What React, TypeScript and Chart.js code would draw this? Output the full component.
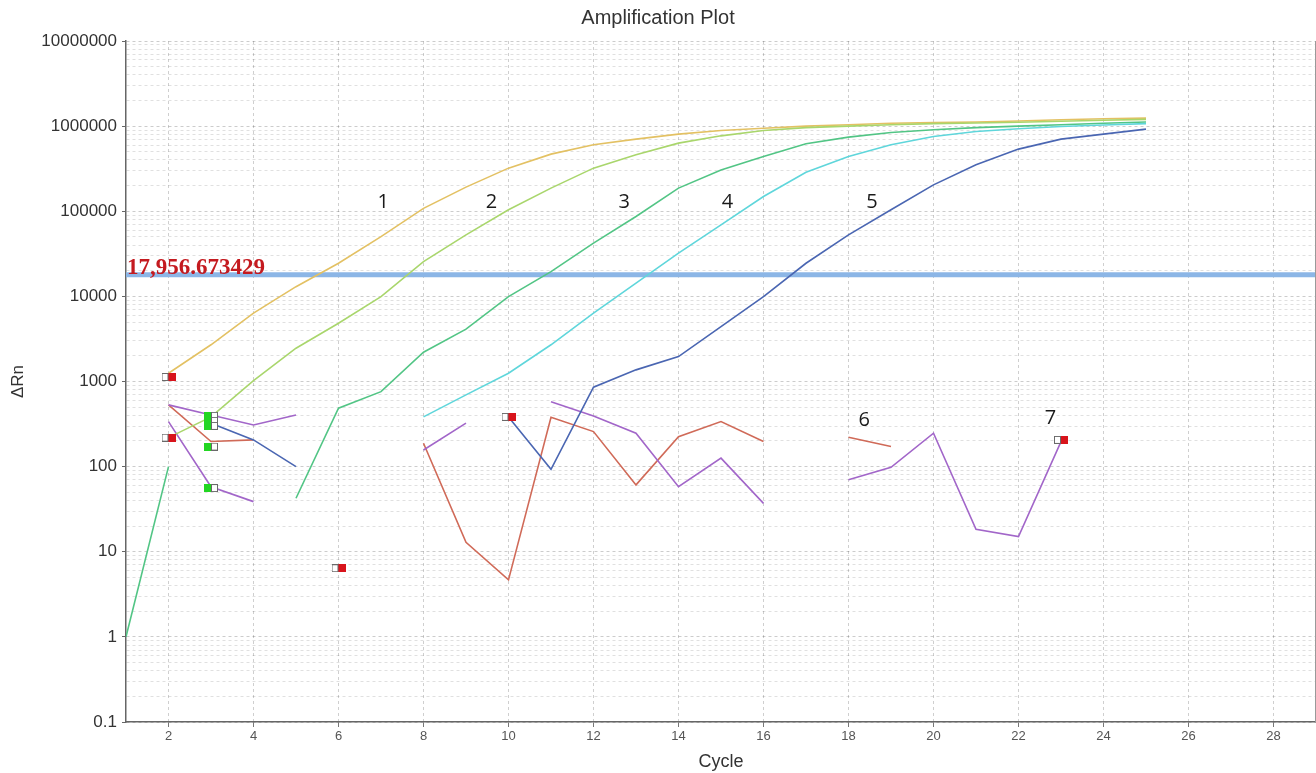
import React, { useEffect, useRef } from 'react';
import { Chart, registerables } from 'chart.js';

Chart.register(...registerables);

// ---------- data ----------
const cycles = [1, 2, 3, 4, 5, 6, 7, 8, 9, 10, 11, 12, 13, 14, 15, 16, 17, 18, 19, 20, 21, 22, 23, 24, 25];

const curve1 = [null, 1250, 2700, 6350, 13000, 24500, 50400, 108000, 192000, 321000, 469000, 603000, 703000, 805000, 887000, 946000, 1000000, 1040000, 1080000, 1100000, 1120000, 1150000, 1190000, 1220000, 1240000];
const curve2 = [null, 219, 384, 1025, 2460, 4840, 9950, 25600, 52800, 104000, 187000, 321000, 460000, 631000, 769000, 887000, 960000, 1000000, 1040000, 1070000, 1090000, 1110000, 1140000, 1170000, 1200000];
const curve3 = [1, 100, null, null, 42.5, 486, 760, 2210, 4120, 9950, 19500, 42200, 86700, 187000, 306000, 440000, 620000, 743000, 842000, 906000, 960000, 1000000, 1040000, 1080000, 1120000];
const curve4 = [null, null, null, null, null, null, null, 384, 697, 1250, 2700, 6350, 14300, 32200, 69200, 149000, 287000, 440000, 603000, 755000, 865000, 930000, 990000, 1030000, 1070000];
const curve5 = [null, null, 324, 206, 100, null, null, null, null, 384, 93, 857, 1370, 1960, 4420, 9950, 24500, 52800, 104000, 204000, 351000, 537000, 703000, 805000, 922000];
const noiseA = [null, 531, 405, 309, 405, null, null, 157, 324, null, 580, 394, 247, 58, 126, 37, null, 70, 98, 247, 18.4, 15.1, 197, null, null];
const noiseB = [null, 338, 58, 38.8, null, null, null, null, null, null, null, null, null, null, null, null, null, null, null, null, null, null, null, null, null];
const noiseC = [null, 531, 197, 206, null, null, null, 188, 12.9, 4.67, 380, 258, 61, 225, 338, 197, null, 221, 172, null, null, null, null, null, null];

const thresholdValue = 17956.673429;
const thresholdLabel = '17,956.673429';
const thresholdCycles = [1, 29];

const redMarkerCycles = [2, 2, 6, 10, 23];
const redMarkerValues = [1130, 219, 6.4, 384, 206];
const greenMarkerCycles = [3, 3, 3, 3, 3];
const greenMarkerValues = [395, 345, 301, 172, 56];

const curveLabels = ['1', '2', '3', '4', '5', '6', '7'];
const curveLabelCycles = [7.05, 9.6, 12.72, 15.15, 18.55, 18.37, 22.75];
const curveLabelValues = [129000, 129000, 129000, 129000, 129000, 354, 372];

const xTickValues = [2, 4, 6, 8, 10, 12, 14, 16, 18, 20, 22, 24, 26, 28];
const yDecades = [0.1, 1, 10, 100, 1000, 10000, 100000, 1000000, 10000000];
const yTickLabels = ['0.1', '1', '10', '100', '1000', '10000', '100000', '1000000', '10000000'];

// ---------- helpers ----------
const toPoints = (arr: (number | null)[]) => cycles.map((c, i) => ({ x: c, y: arr[i] }));
const zip = (xs: number[], ys: number[]) => xs.map((x, i) => ({ x, y: ys[i] }));

const yTicks: number[] = [];
yDecades.forEach((d, i) => {
  if (i === yDecades.length - 1) {
    yTicks.push(d);
  } else {
    for (let k = 1; k <= 9; k++) yTicks.push(Number((k * d).toPrecision(6)));
  }
});

function makeMarker(color: string, colorLeft: boolean): HTMLCanvasElement {
  const c = document.createElement('canvas');
  c.width = 14;
  c.height = 8;
  const g = c.getContext('2d')!;
  g.fillStyle = '#ffffff';
  g.fillRect(0, 0, 14, 8);
  g.fillStyle = color;
  if (colorLeft) g.fillRect(0, 0, 7, 8);
  else g.fillRect(7, 0, 7, 8);
  g.strokeStyle = '#6a6a6a';
  g.lineWidth = 1;
  if (colorLeft) g.strokeRect(7.5, 0.5, 6, 7);
  else g.strokeRect(0.5, 0.5, 6, 7);
  return c;
}

const annotationPlugin = {
  id: 'pcrAnnotations',
  afterDatasetsDraw(chart: any) {
    const { ctx, chartArea, scales } = chart;
    const xs = scales.x;
    const ys = scales.y;
    ctx.save();
    // right frame line
    ctx.strokeStyle = '#9a9a9a';
    ctx.lineWidth = 1;
    ctx.beginPath();
    ctx.moveTo(chartArea.right - 0.5, chartArea.top);
    ctx.lineTo(chartArea.right - 0.5, chartArea.bottom);
    ctx.stroke();
    // threshold label
    ctx.font = 'bold 23px "Liberation Serif"';
    ctx.fillStyle = '#c41a1f';
    ctx.textAlign = 'left';
    ctx.textBaseline = 'alphabetic';
    ctx.fillText(thresholdLabel, chartArea.left + 1, ys.getPixelForValue(thresholdValue) - 1);
    // curve number labels
    ctx.font = '20px "Open Sans"';
    ctx.fillStyle = '#1a1a1a';
    ctx.textAlign = 'center';
    ctx.textBaseline = 'middle';
    curveLabels.forEach((t, i) => {
      ctx.fillText(t, xs.getPixelForValue(curveLabelCycles[i]), ys.getPixelForValue(curveLabelValues[i]));
    });
    ctx.restore();
  },
};

const lineDs = (data: any[], color: string, width = 1.6) => ({
  type: 'line' as const,
  data,
  borderColor: color,
  backgroundColor: color,
  borderWidth: width,
  pointRadius: 0,
  fill: false,
  tension: 0,
  spanGaps: false,
});

export default function App() {
  const ref = useRef<HTMLCanvasElement | null>(null);

  useEffect(() => {
    if (!ref.current) return;
    const redMarker = makeMarker('#d8141c', false);
    const greenMarker = makeMarker('#22d622', true);

    const chart = new Chart(ref.current, {
      type: 'line',
      data: {
        datasets: [
          { type: 'line', data: zip(redMarkerCycles, redMarkerValues), showLine: false, pointStyle: redMarker as any, pointRadius: 5, borderColor: '#d8141c', backgroundColor: '#d8141c' },
          { type: 'line', data: zip(greenMarkerCycles, greenMarkerValues), showLine: false, pointStyle: greenMarker as any, pointRadius: 5, borderColor: '#22d622', backgroundColor: '#22d622' },
          lineDs(toPoints(curve5), '#4a66b2'),
          lineDs(toPoints(curve4), '#5fd6db'),
          lineDs(toPoints(curve3), '#52c585'),
          lineDs(toPoints(curve2), '#a9d66c'),
          lineDs(toPoints(curve1), '#e3c163'),
          lineDs(toPoints(noiseA), '#a266c9'),
          lineDs(toPoints(noiseB), '#a266c9'),
          lineDs(toPoints(noiseC), '#d06a58'),
          lineDs(thresholdCycles.map((c) => ({ x: c, y: thresholdValue })), '#8cb6e6', 5),
        ] as any,
      },
      options: {
        responsive: false,
        animation: false,
        events: [],
        layout: { autoPadding: false, padding: { left: 0, right: 0, top: 0, bottom: 0 } },
        plugins: {
          legend: { display: false },
          tooltip: { enabled: false },
          title: {
            display: true,
            text: 'Amplification Plot',
            color: '#333333',
            font: { family: '"Liberation Sans"', size: 20, weight: 'normal' },
            padding: { top: 6, bottom: 11 },
          },
        },
        scales: {
          x: {
            type: 'linear',
            min: 1,
            max: 29,
            afterBuildTicks: (s: any) => {
              s.ticks = xTickValues.map((v) => ({ value: v }));
            },
            afterFit: (s: any) => {
              s.height = 51;
            },
            ticks: {
              autoSkip: false,
              maxRotation: 0,
              color: '#555555',
              padding: 2,
              font: { family: '"Liberation Sans"', size: 13 },
              callback: (v: any) => String(v),
            },
            grid: { color: 'rgba(0,0,0,0.19)', lineWidth: 1, tickColor: '#777777', tickLength: 5 },
            border: { display: true, color: '#666666', width: 1.5, dash: [3, 3] },
            title: {
              display: true,
              text: 'Cycle',
              color: '#333333',
              font: { family: '"Liberation Sans"', size: 18 },
              padding: { top: 0, bottom: 0 },
            },
          },
          y: {
            type: 'logarithmic',
            min: 0.1,
            max: 10000000,
            afterBuildTicks: (s: any) => {
              s.ticks = yTicks.map((v) => ({ value: v }));
            },
            afterFit: (s: any) => {
              s.width = 126;
            },
            ticks: {
              autoSkip: false,
              color: '#333333',
              padding: 5,
              font: { family: '"Liberation Sans"', size: 17 },
              callback: (_v: any, index: number) => (index % 9 === 0 ? yTickLabels[index / 9] : ''),
            },
            grid: {
              color: (c: any) => (c.index % 9 === 0 ? 'rgba(0,0,0,0.2)' : 'rgba(0,0,0,0.12)'),
              lineWidth: 1,
              tickColor: (c: any) => (c.index % 9 === 0 ? '#666666' : 'rgba(0,0,0,0)'),
              tickLength: 4,
            },
            border: { display: true, color: '#666666', width: 1.5, dash: [3, 3] },
            title: {
              display: true,
              text: 'ΔRn',
              color: '#333333',
              font: { family: '"Liberation Sans"', size: 17 },
              padding: { top: 8, bottom: 0 },
            },
          },
        },
      } as any,
      plugins: [annotationPlugin],
    });
    return () => chart.destroy();
  }, []);

  return (
    <div style={{ position: 'absolute', left: 0, top: 0, width: 1316, height: 773, background: '#ffffff' }}>
      <canvas ref={ref} width={1316} height={773} style={{ display: 'block' }} />
    </div>
  );
}
